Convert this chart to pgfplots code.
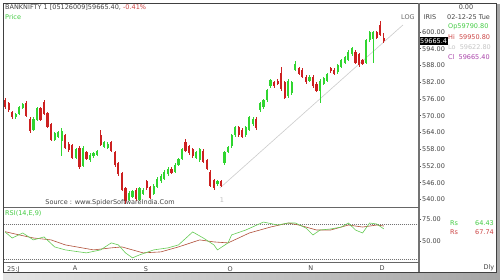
\documentclass[border=0pt]{standalone}
\usepackage{pgfplots}
\pgfplotsset{compat=1.18}
\usepackage{pgfplotstable}
\usepackage{fontspec}
\setmainfont{DejaVu Sans}
\newcommand\sm{\fontsize{6.5}{7.5}\selectfont}
\definecolor{cgreen}{HTML}{30D530}
\definecolor{cred}{HTML}{CC2020}
\definecolor{rsigreen}{HTML}{66CC55}
\definecolor{rsired}{HTML}{B0503A}
\definecolor{txt}{HTML}{444444}
\definecolor{igreen}{HTML}{44CC44}
\definecolor{ired}{HTML}{CC4444}
\definecolor{ipurple}{HTML}{AA44AA}

\pgfplotstableread{
i O H L C
3 56950 57110 56900 57060
4 57060 57340 57020 57300
5 57280 57470 57240 57420
8 56500 56950 56450 56900
9 56850 57320 56800 57280
14 56130 56420 56100 56380
15 56250 56450 56200 56400
16 56100 56550 55550 56450
20 55500 55850 55450 55800
22 55200 55900 55150 55850
24 55400 55650 55350 55600
25 55550 55700 55500 55650
26 55600 55770 55560 55720
28 55880 56100 55830 56050
29 55850 56050 55800 56000
35 54000 54300 53950 54250
36 54100 54350 54050 54300
38 54000 54450 53950 54400
39 54200 54400 54150 54350
42 54200 54550 54150 54500
43 54450 54800 54400 54750
44 54650 54900 54600 54850
45 54750 55050 54700 55000
46 54900 55150 54850 55100
48 55000 55300 54950 55250
49 55250 55500 55200 55450
50 55450 55850 55400 55800
54 55500 55750 55450 55700
55 55400 55850 55350 55800
60 54550 54700 54500 54650
62 55300 55750 55250 55700
63 55700 55930 55650 55880
64 55900 56350 55850 56300
65 56300 56650 56250 56600
68 56300 56650 56250 56600
69 56500 57000 56450 56950
70 56700 56950 56650 56900
72 57200 57500 57150 57450
73 57300 57600 57250 57550
74 57550 57970 57500 57920
75 58050 58330 58000 58280
80 57700 58300 57650 58250
81 57800 58250 57750 58200
82 58650 58950 58600 58850
86 58250 58450 58200 58400
89 57900 58300 57450 58250
90 58150 58400 58100 58350
91 58250 58550 58200 58500
94 58550 58850 58500 58800
95 58750 59050 58700 59000
96 58900 59150 58850 59100
97 59000 59350 58950 59300
98 59200 59480 59150 59430
102 58900 59750 58850 59700
103 59700 60050 59650 60000
104 59750 60050 58900 60000
}\upT

\pgfplotstableread{
i O H L C
0 57564 57620 57250 57313
1 57457 57500 57150 57206
2 57134 57180 56900 56950
6 57450 57520 56950 56990
7 56900 56950 56400 56450
10 57280 57320 56800 56850
11 57480 57560 57020 57070
12 57100 57150 56550 56600
13 56700 56750 56080 56130
17 56300 56350 55800 55850
18 56000 56050 55720 55770
19 55950 56000 55450 55490
21 55850 55900 55100 55150
23 55700 55750 55400 55450
27 56300 56500 55900 55950
30 56050 56100 55700 55750
31 55700 55750 55180 55230
32 55300 55350 54850 54900
33 54950 55000 54300 54350
34 54400 54450 53850 53950
37 54350 54400 53950 54000
40 54650 54700 54350 54400
41 54450 54500 54000 54050
47 55100 55150 54900 54950
51 56050 56150 55700 55750
52 55900 55950 55600 55650
53 55800 55850 55500 55550
56 55750 55800 55300 55350
57 55400 55450 55050 55100
58 55000 55050 54450 54500
59 54700 54750 54340 54400
61 54650 54700 54450 54500
66 56600 56650 56250 56300
67 56500 56550 56200 56250
71 56900 56950 56500 56560
76 58200 58250 58000 58050
77 58250 58300 58100 58150
78 58550 58750 57900 57950
79 58200 58250 57600 57650
83 58700 58750 58450 58500
84 58650 58700 58350 58400
85 58400 58450 58150 58200
87 58400 58450 58000 58050
88 58150 58200 57850 57900
92 58700 58750 58550 58600
93 58650 58700 58450 58500
99 59300 59350 58850 58900
100 59200 59250 58750 58800
101 59000 59050 58800 58850
105 60000 60050 59750 59800
106 60250 60380 59850 59900
107 59790 59950 59622 59665
}\dnT

\begin{document}
\begin{tikzpicture}
\useasboundingbox (0pt,0pt) rectangle (500pt,280pt);
% shadow
\shade[left color=gray!20, right color=gray!70] (3pt,0pt) rectangle (500pt,8pt);
\fill[gray!70] (496pt,0pt) rectangle (500pt,276pt);
\fill[white] (3.5pt,8pt) rectangle (496pt,276.5pt);

% price panel
\begin{axis}[
  at={(3.5pt,73pt)}, anchor=south west, scale only axis,
  width=415.5pt, height=203.5pt,
  xmin=-0.45, xmax=116.95, ymin=53731, ymax=61021,
  axis line style={draw=none},
  xtick=\empty,
  ytick={54000,54600,55200,55800,56400,57000,57600,58200,58800,59400,60000},
  yticklabels={540.00,546.00,552.00,558.00,564.00,570.00,576.00,582.00,588.00,594.00,600.00},
  ytick pos=right, yticklabel pos=right,
  tick align=outside, major tick length=2pt,
  tick style={black!70, line width=0.5pt},
  yticklabel style={font=\sm, text=txt, inner sep=0.5pt, xshift=0.5pt},
  scaled y ticks=false,
  clip=false,
]
% trend line
\addplot[gray!40, line width=0.6pt] coordinates {(60.7,54412) (112.4,60251)};
% wicks
\addplot[draw=none, mark=none, forget plot,
  error bars/.cd, y dir=both, y explicit, error mark=none,
  error bar style={draw=cgreen, line width=0.6pt}]
  table[x=i, y expr={(\thisrow{H}+\thisrow{L})/2}, y error expr={(\thisrow{H}-\thisrow{L})/2}] {\upT};
\addplot[draw=none, mark=none, forget plot,
  error bars/.cd, y dir=both, y explicit, error mark=none,
  error bar style={draw=cred, line width=0.6pt}]
  table[x=i, y expr={(\thisrow{H}+\thisrow{L})/2}, y error expr={(\thisrow{H}-\thisrow{L})/2}] {\dnT};
% bodies
\addplot[draw=none, mark=none, forget plot,
  error bars/.cd, y dir=both, y explicit, error mark=none,
  error bar style={draw=cgreen, line width=2.2pt, line cap=butt}]
  table[x=i, y expr={(\thisrow{O}+\thisrow{C})/2}, y error expr={abs(\thisrow{C}-\thisrow{O})/2}] {\upT};
\addplot[draw=none, mark=none, forget plot,
  error bars/.cd, y dir=both, y explicit, error mark=none,
  error bar style={draw=cred, line width=2.2pt, line cap=butt}]
  table[x=i, y expr={(\thisrow{O}+\thisrow{C})/2}, y error expr={abs(\thisrow{C}-\thisrow{O})/2}] {\dnT};
\node[fill=black, text=white, font=\sm, anchor=west, inner sep=1pt, minimum height=8pt] at (axis cs:116.95,59665) {59665.4};
\end{axis}

% RSI panel
\begin{axis}[
  at={(3.5pt,17.5pt)}, anchor=south west, scale only axis,
  width=415.5pt, height=55.5pt,
  xmin=-0.45, xmax=116.95, ymin=26, ymax=89.4,
  axis line style={draw=none},
  xtick={2.3,19.8,39.8,63.6,86.4,106.5},
  xticklabels={25:J,A,S,O,N,D},
  xtick pos=bottom,
  x tick style={draw=none},
  xticklabel style={font=\sm, text=txt, inner sep=1pt, yshift=-0.5pt},
  ytick={50,75}, yticklabels={50.00,75.00},
  ytick pos=right, yticklabel pos=right,
  tick align=outside, major tick length=2pt,
  y tick style={black!70, line width=0.5pt},
  yticklabel style={font=\sm, text=txt, inner sep=0.5pt, xshift=0.5pt},
  clip=false,
]
\addplot[black!55, dash pattern=on 1pt off 1pt, line width=0.6pt] coordinates {(-0.45,70) (116.95,70)};
\addplot[black!55, dash pattern=on 1pt off 1pt, line width=0.6pt] coordinates {(-0.45,30) (116.95,30)};
\addplot[rsired, line width=0.6pt] coordinates {(0,61.2) (4,57.5) (8,54.0) (13,51.8) (17,46.1) (25,40.4) (30,42.7) (33,43.8) (39,37.0) (44,38.1) (49,43.8) (55,51.8) (59,49.5) (63,48.4) (66,54.0) (69,59.7) (75,66.5) (80,71.1) (83,68.8) (88,63.1) (92,63.1) (97,68.8) (101,66.5) (105,68.8) (107,67.7)};
\addplot[rsigreen, line width=0.6pt] coordinates {(0,60.9) (2,54.0) (5,59.7) (8,51.8) (11,55.2) (14,43.8) (17,40.4) (21,38.1) (23,37.0) (27,40.4) (30,48.4) (32,46.1) (34,37.0) (36,31.3) (38,34.7) (42,40.4) (46,42.7) (49,46.1) (53,60.9) (56,54.0) (59,46.1) (60,40.4) (63,48.4) (64,57.5) (68,63.1) (73,72.2) (77,68.8) (80,71.1) (82,71.1) (85,65.4) (87,57.5) (89,63.1) (92,64.3) (95,66.5) (97,71.1) (99,63.1) (101,59.7) (103,71.1) (105,70.0) (107,64.4)};
\end{axis}

% frame lines
\draw[black!75, line width=0.9pt] (3.5pt,8pt) rectangle (496pt,276.5pt);
\draw[black!55, line width=1.1pt] (419pt,8pt) -- (419pt,276.5pt);
\draw[black!60, line width=0.6pt] (3.5pt,73pt) -- (419pt,73pt);
\draw[black!60, line width=0.8pt] (3.5pt,17.5pt) -- (419pt,17.5pt);

% texts
\node[anchor=west, font=\sm, inner sep=0pt] at (5pt,273pt) {\textcolor{txt}{BANKNIFTY 1 [05126009]59665.40,}\ \textcolor{ired}{-0.41\%}};
\node[anchor=west, font=\sm, text=igreen, inner sep=0pt] at (5pt,262.5pt) {Price};
\node[font=\sm, text=txt!80, inner sep=0pt] at (408pt,263pt) {LOG};
\node[font=\sm, text=txt, inner sep=0pt] at (110pt,77pt) {Source : www.SpiderSoftwareIndia.Com};
\node[font=\sm, text=gray!50, inner sep=0pt] at (222pt,80pt) {1};
\node[anchor=west, font=\sm, text=igreen, inner sep=0pt] at (5pt,67pt) {RSI(14,E,9)};
\begin{scope}
\clip (420pt,8.5pt) rectangle (495.5pt,276pt);
\node[font=\sm, text=txt, inner sep=0pt] at (430pt,263pt) {IRIS};
\node[font=\sm, text=txt, inner sep=0pt] at (466pt,273pt) {0.00};
\node[anchor=west, font=\sm, text=txt, inner sep=0pt] at (447pt,263pt) {02-12-25 Tue};
\node[anchor=west, font=\sm, text=igreen, inner sep=0pt] at (448pt,253.3pt) {Op59790.80};
\node[anchor=west, font=\sm, text=ired, inner sep=0pt] at (448pt,243.3pt) {Hi\ \ 59950.80};
\node[anchor=west, font=\sm, text=gray!45, inner sep=0pt] at (448pt,233.3pt) {Lo\ \ 59622.80};
\node[anchor=west, font=\sm, text=ipurple, inner sep=0pt] at (448pt,223.3pt) {Cl\ \ 59665.40};
\node[anchor=west, font=\sm, text=igreen, inner sep=0pt] at (450pt,57pt) {Rs};
\node[anchor=west, font=\sm, text=igreen, inner sep=0pt] at (475pt,57pt) {64.43};
\node[anchor=west, font=\sm, text=ired, inner sep=0pt] at (450pt,48pt) {Rs};
\node[anchor=west, font=\sm, text=ired, inner sep=0pt] at (475pt,48pt) {67.74};
\node[font=\sm, text=txt, inner sep=0pt] at (489pt,12pt) {Dly};
\end{scope}
\end{tikzpicture}
\end{document}
